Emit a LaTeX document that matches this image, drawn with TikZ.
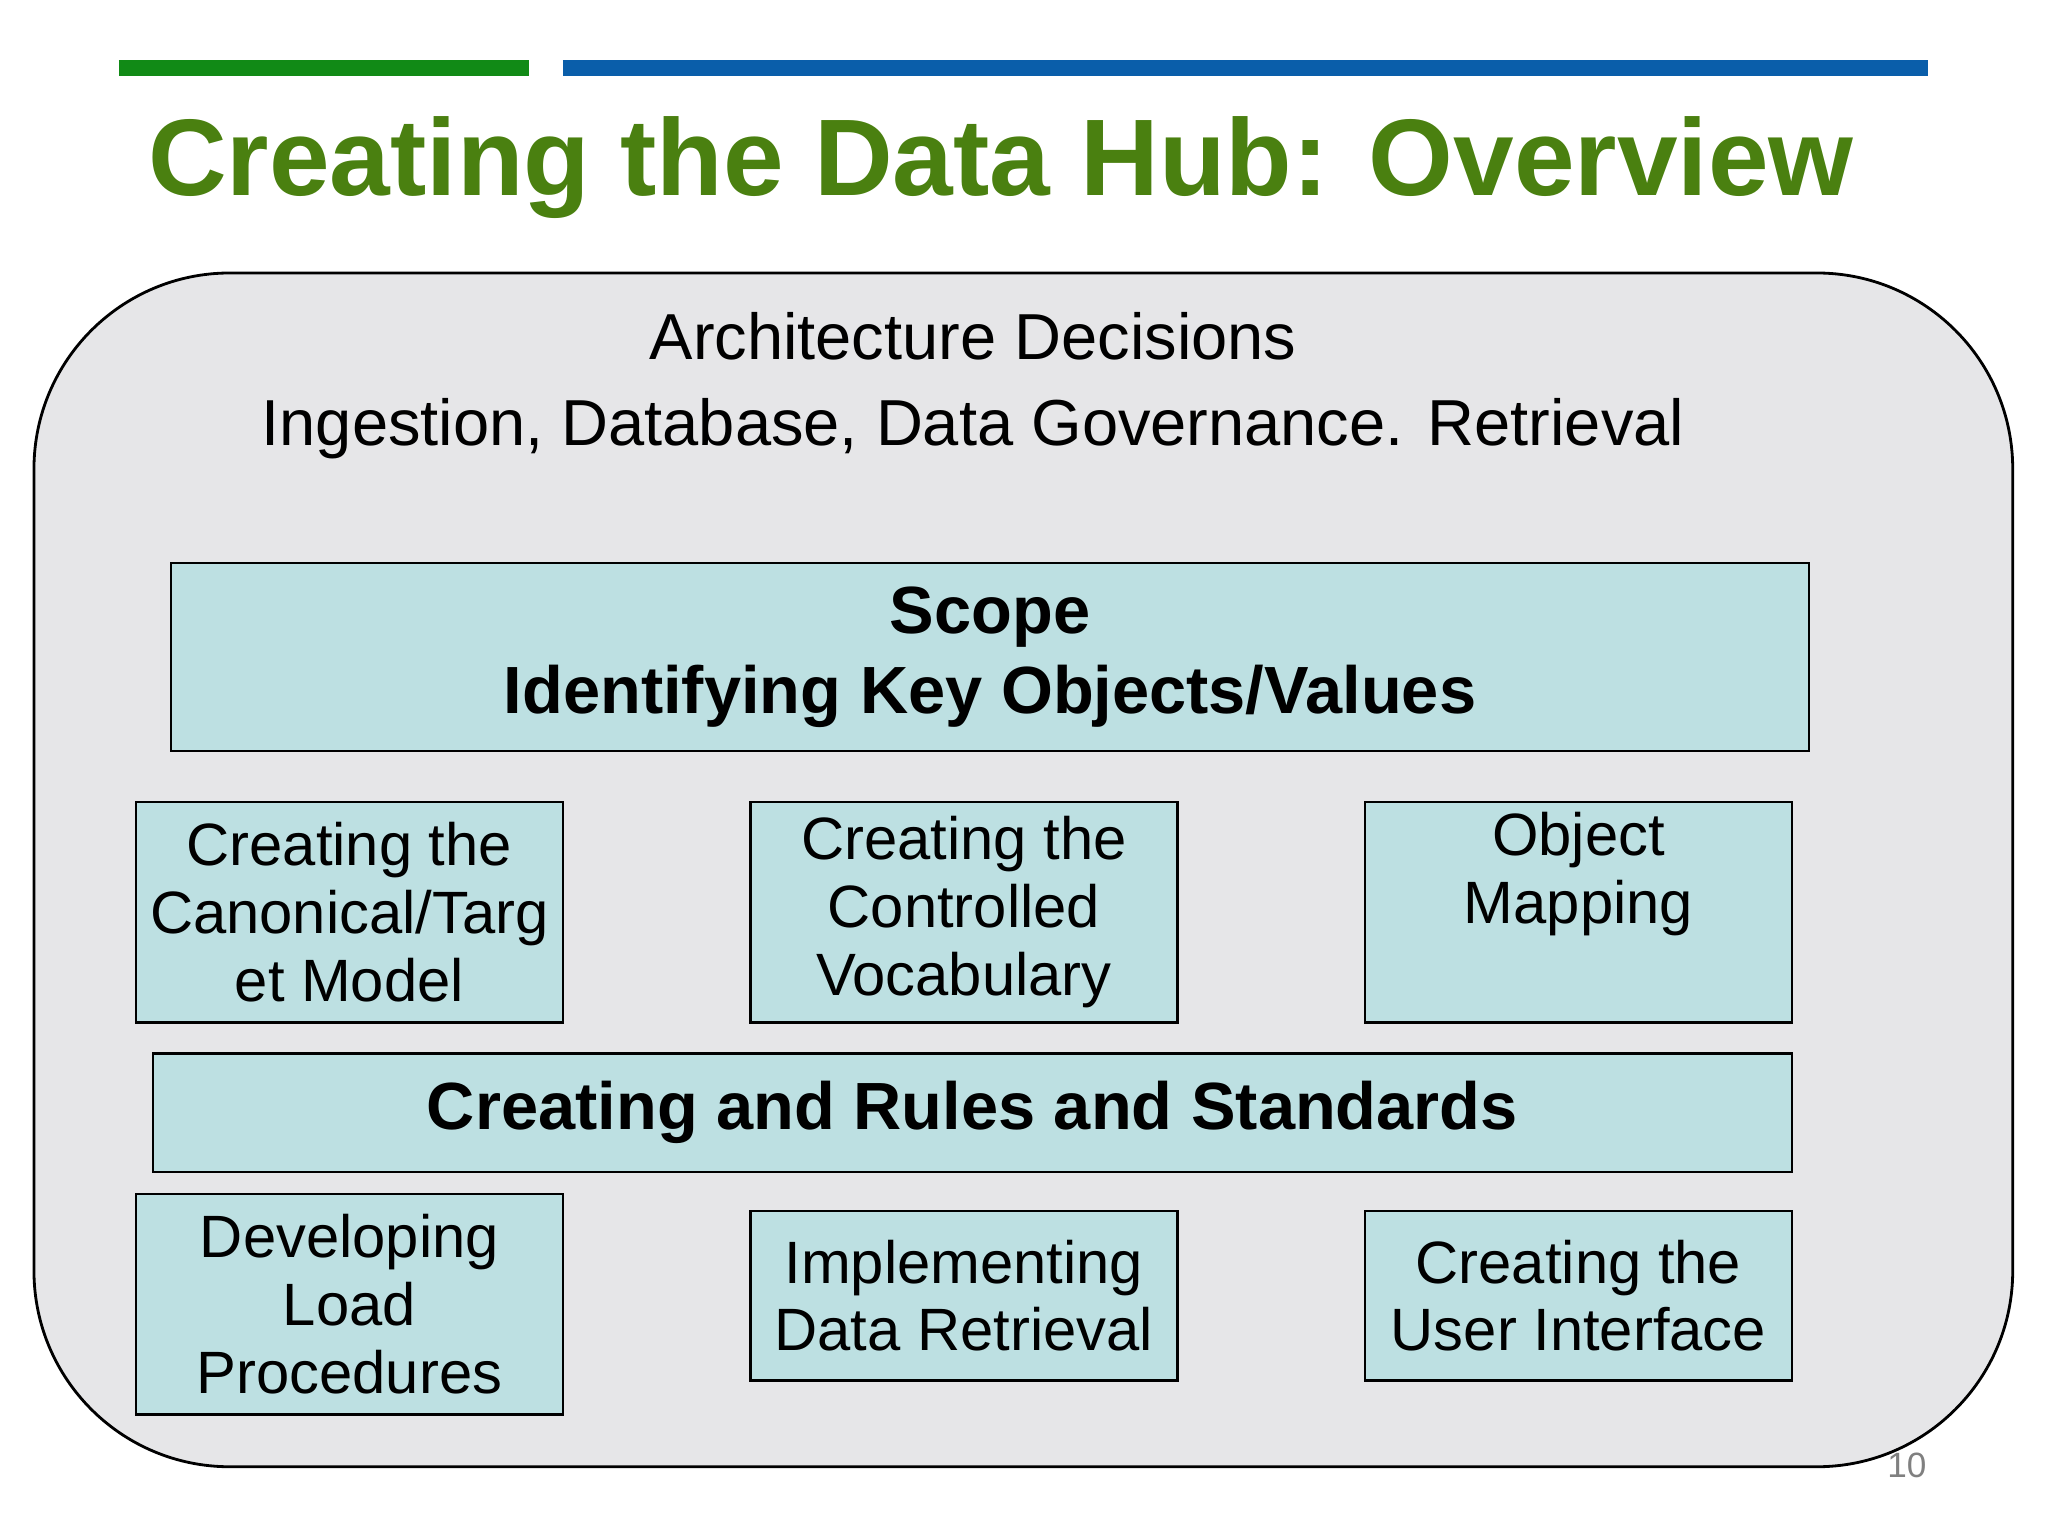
\documentclass[tikz,border=0pt]{standalone}
\usepackage{fontspec}
\setmainfont{Liberation Sans}
\definecolor{titlegreen}{HTML}{4A8010}
\definecolor{barblue}{HTML}{0A5EAA}
\definecolor{bargreen}{HTML}{118A16}
\definecolor{panelgray}{HTML}{E6E6E8}
\definecolor{boxteal}{HTML}{BDE0E2}
\newcommand{\pxu}{0.01306cm}
\tikzset{
  panel/.style={draw=black, fill=panelgray, rounded corners=150*\pxu, line width=0.8pt},
  tealbox/.style 2 args={draw=black, fill=boxteal, line width=0.7pt, minimum width={#1*\pxu}, minimum height={#2*\pxu}, inner sep=0pt, align=center, font=\fontsize{17}{19.3}\selectfont},
  bigbold/.style={font=\fontsize{19}{22.7}\selectfont\bfseries}
}
\begin{document}
\begin{tikzpicture}[x=\pxu, y=-\pxu]
  \useasboundingbox (0,0) rectangle (1568,1176);
  % header bars and title
  \draw[bargreen, line width=12*\pxu] (91,52) -- (405,52);
  \draw[barblue, line width=12*\pxu] (431,52) -- (1476,52);
  \node[anchor=west, text=titlegreen, font=\fontsize{31}{36}\selectfont\bfseries] (title) at (104,128) {Creating the Data Hub: Overview};
  % outer panel
  \draw[panel] (26,209) rectangle (1541,1123);
  \node[align=center, font=\fontsize{18.5}{24.5}\selectfont] (arch) at (745,295) {Architecture Decisions\\Ingestion, Database, Data Governance. Retrieval};
  % boxes
  \node[tealbox={1254}{144}, bigbold] (scope) at (758,503) {Scope\\Identifying Key Objects/Values};
  \node[tealbox={327}{169}] (canon) at (267.5,698.5) {Creating the\\Canonical/Targ\\et Model};
  \node[tealbox={327}{169}] (vocab) at (738,698.5) {Creating the\\Controlled\\Vocabulary};
  \node[tealbox={327}{169}] (objmap) at (1208.5,698.5) {Object\\Mapping\\\strut};
  \node[tealbox={1255}{91}, bigbold] (rules) at (744.5,852) {Creating and Rules and Standards};
  \node[tealbox={327}{169}] (load) at (267.5,998.5) {Developing\\Load\\Procedures};
  \node[tealbox={327}{130}] (retr) at (738,992) {Implementing\\Data Retrieval};
  \node[tealbox={327}{130}] (ui) at (1208.5,992) {Creating the\\User Interface};
  % page number
  \node[text=gray, font=\fontsize{10}{12}\selectfont] (pagenum) at (1460,1122) {10};
\end{tikzpicture}
\end{document}
